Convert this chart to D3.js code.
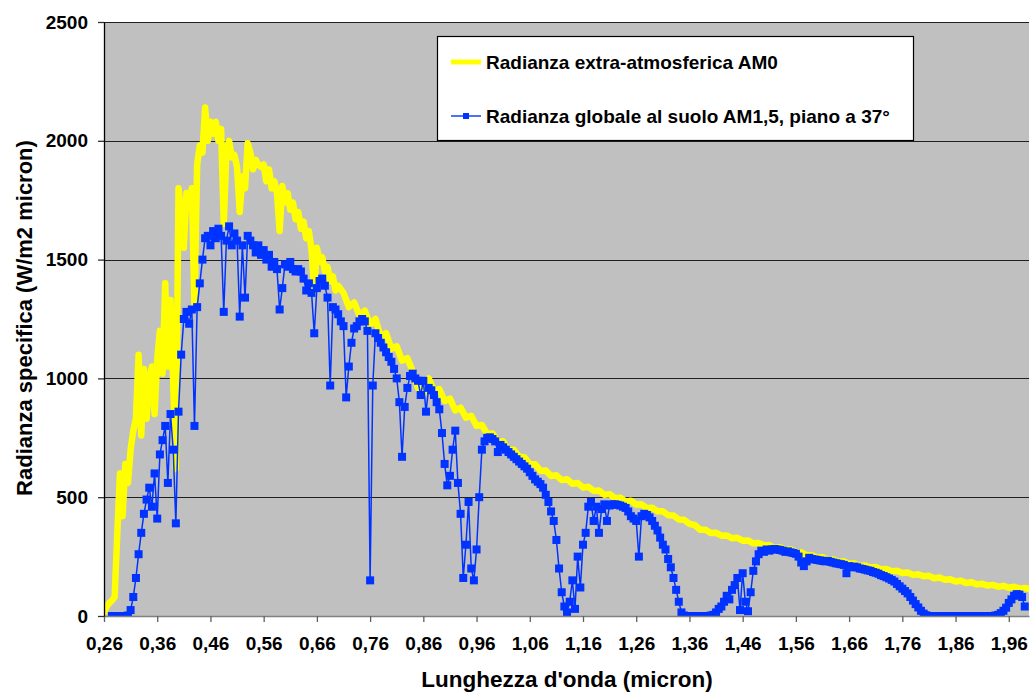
<!DOCTYPE html>
<html>
<head>
<meta charset="utf-8">
<script src="https://cdn.jsdelivr.net/npm/d3@7"></script>
<style>
  body { margin: 0; background: #fff; }
  svg text { font-family: "Liberation Sans", Arial, sans-serif; font-weight: bold; fill: #000; }
</style>
</head>
<body>
<svg id="chart"></svg>
<script>
// --- data ---
// AM0 extra-atmospheric spectrum: fine grid 0.26-0.70 um (step 0.005), then 0.71-2.00 um (step 0.01)
const am0FineStart = 0.26, am0FineStep = 0.005;
const am0Fine = [
    15, 40, 55, 65, 80, 350, 600, 420, 640, 560,
    700, 780, 830, 1100, 760, 1040, 830, 1000, 1050, 850,
    1080, 1200, 1020, 1400, 1050, 1330, 980, 620, 1800, 1700,
    1550, 1780, 1720, 1800, 1300, 1900, 1980, 1950, 2140, 2000,
    2080, 2030, 2080, 2000, 2050, 1650, 1950, 2000, 1930, 1940,
    1890, 1700, 1850, 1800, 1990, 1950, 1880, 1920, 1900, 1890,
    1900, 1830, 1880, 1800, 1830, 1780, 1620, 1810, 1740, 1780,
    1710, 1740, 1670, 1700, 1630, 1660, 1590, 1620, 1540, 1360,
    1550, 1490, 1510, 1450, 1470, 1410, 1430, 1370, 1390
];
const am0CoarseStart = 0.71, am0CoarseStep = 0.01;
const am0Coarse = [
    1360, 1300, 1320, 1265, 1285, 1225, 1250, 1175, 1190, 1125,
    1135, 1075, 1085, 1030, 960, 935, 1000, 950, 955, 905,
    915, 865, 877, 835, 843, 800, 804, 765, 768, 734,
    735, 699, 700, 670, 668, 639, 639, 611, 612, 589,
    592, 572, 576, 557, 560, 541, 544, 526, 528, 510,
    513, 496, 498, 481, 485, 469, 470, 454, 456, 441,
    441, 424, 423, 406, 405, 388, 383, 363, 363, 349,
    350, 338, 339, 327, 329, 317, 318, 306, 307, 297,
    298, 287, 289, 279, 280, 269, 268, 255, 256, 245,
    247, 237, 238, 228, 230, 220, 221, 211, 213, 204,
    206, 196, 198, 188, 190, 181, 183, 173, 176, 167,
    169, 159, 162, 153, 155, 145, 148, 139, 142, 133,
    136, 128, 131, 123, 127, 119, 123, 115, 118, 113
];

// AM1.5 global, tilt 37 deg: grid 0.275-1.99 um (step 0.005)
const am15Start = 0.275, am15Step = 0.005;
const am15Values = [
    0, 0, 0, 0, 0, 0, 2, 25, 80, 160,
    260, 350, 430, 490, 540, 460, 600, 410, 680, 740,
    800, 560, 850, 700, 390, 860, 1100, 1250, 1280, 1230,
    1290, 800, 1300, 1400, 1500, 1590, 1600, 1560, 1620, 1590,
    1630, 1600, 1280, 1580, 1640, 1560, 1610, 1580, 1260, 1560,
    1340, 1600, 1580, 1560, 1530, 1560, 1520, 1540, 1500, 1520,
    1470, 1490, 1460, 1290, 1380, 1480, 1470, 1490, 1460, 1450,
    1460, 1450, 1420, 1370, 1400, 1360, 1190, 1380, 1410, 1420,
    1390, 1340, 970, 1300, 1290, 1270, 1240, 1220, 920, 1050,
    1150, 1210, 1220, 1240, 1250, 1240, 1200, 150, 970, 1190,
    1170, 1150, 1130, 1110, 1090, 1070, 1040, 1000, 900, 670,
    880, 960, 1010, 1020, 1000, 990, 930, 990, 860, 960,
    950, 930, 900, 870, 770, 640, 550, 590, 700, 780,
    560, 430, 160, 300, 480, 200, 150, 280, 500, 700,
    735, 750, 752, 745, 735, 690, 720, 710, 700, 690,
    680, 670, 660, 650, 640, 630, 620, 605, 590, 575,
    565, 555, 540, 510, 480, 440, 400, 320, 200, 100,
    40, 15, 60, 150, 30, 250, 120, 300, 350, 460,
    480, 400, 460, 350, 450, 470, 400, 465, 470, 470,
    468, 465, 460, 455, 440, 420, 410, 400, 250, 420,
    430, 425, 415, 400, 380, 360, 330, 300, 280, 240,
    205, 160, 110, 60, 15, 2, 0, 0, 0, 0,
    0, 0, 0, 0, 0, 2, 5, 15, 30, 40,
    60, 85, 70, 110, 130, 160, 25, 180, 60, 20,
    100, 190, 230, 260, 275, 270, 280, 275, 280, 282,
    280, 278, 275, 270, 272, 268, 265, 262, 250, 225,
    210, 230, 245, 240, 238, 236, 234, 232, 230, 232,
    228, 225, 222, 220, 218, 215, 180, 210, 205, 208,
    205, 200, 198, 195, 192, 190, 185, 182, 178, 172,
    168, 163, 158, 152, 145, 135, 125, 115, 105, 95,
    80, 65, 50, 36, 22, 10, 3, 0, 0, 0,
    0, 0, 0, 0, 0, 0, 0, 0, 0, 0,
    0, 0, 0, 0, 0, 0, 0, 0, 0, 0,
    0, 0, 2, 5, 12, 22, 35, 55, 70, 85,
    92, 90, 80, 40
];

const xTickValues = [0.26, 0.36, 0.46, 0.56, 0.66, 0.76, 0.86, 0.96, 1.06, 1.16,
                     1.26, 1.36, 1.46, 1.56, 1.66, 1.76, 1.86, 1.96];
const yTickValues = [0, 500, 1000, 1500, 2000, 2500];
const seriesNames = ["Radianza extra-atmosferica AM0", "Radianza globale al suolo AM1,5, piano a 37°"];
const xTitle = "Lunghezza d'onda (micron)";
const yTitle = "Radianza specifica (W/m2 micron)";

// --- build point lists ---
const onGrid = (vals, start, step) => vals.map((v, i) => [+(start + i * step).toFixed(4), v]);
const am0 = onGrid(am0Fine, am0FineStart, am0FineStep).concat(onGrid(am0Coarse, am0CoarseStart, am0CoarseStep));
const am15 = onGrid(am15Values, am15Start, am15Step);

// --- layout ---
const config = {
    containerWidth: 1032,
    containerHeight: 693,
    margin: {top: 22, right: 3, bottom: 77, left: 104},
    yellow: "#ffff00",
    blue: "#0033ff",
    plotBg: "#c0c0c0"
};
const width = config.containerWidth - config.margin.left - config.margin.right;
const height = config.containerHeight - config.margin.top - config.margin.bottom;

const svg = d3.select("#chart")
    .attr("width", config.containerWidth)
    .attr("height", config.containerHeight);

const chartArea = svg.append("g")
    .attr("transform", `translate(${config.margin.left},${config.margin.top})`);

const xScale = d3.scaleLinear().domain([0.26, 1.998]).range([0, width]);
const yScale = d3.scaleLinear().domain([0, 2500]).range([height, 0]);

// plot background
chartArea.append("rect")
    .attr("width", width)
    .attr("height", height)
    .attr("fill", config.plotBg);

// gridlines
chartArea.append("g")
    .selectAll("line")
    .data(yTickValues.filter(d => d > 0))
    .join("line")
    .attr("x1", 0)
    .attr("x2", width)
    .attr("y1", d => Math.round(yScale(d)) + 0.5)
    .attr("y2", d => Math.round(yScale(d)) + 0.5)
    .attr("stroke", "#202020")
    .attr("stroke-width", 1);

// clipping for the series
chartArea.append("defs")
    .append("clipPath")
    .attr("id", "plot-clip")
    .append("rect")
    .attr("width", width)
    .attr("height", height + 4)
    .attr("y", -4);

const chart = chartArea.append("g").attr("clip-path", "url(#plot-clip)");

const line = d3.line()
    .x(d => xScale(d[0]))
    .y(d => yScale(d[1]));

// AM0 (thick yellow)
chart.append("path")
    .datum(am0)
    .attr("fill", "none")
    .attr("stroke", config.yellow)
    .attr("stroke-width", 6.5)
    .attr("stroke-linejoin", "round")
    .attr("stroke-linecap", "round")
    .attr("d", line);

// AM1.5 (blue with square markers)
chart.append("path")
    .datum(am15)
    .attr("fill", "none")
    .attr("stroke", config.blue)
    .attr("stroke-width", 1.5)
    .attr("d", line);

const markerSize = 8;
chart.selectAll(".point")
    .data(am15)
    .join("rect")
    .attr("class", "point")
    .attr("x", d => xScale(d[0]) - markerSize / 2)
    .attr("y", d => yScale(d[1]) - markerSize / 2)
    .attr("width", markerSize)
    .attr("height", markerSize)
    .attr("fill", config.blue);

// axes
const xAxis = d3.axisBottom(xScale)
    .tickValues(xTickValues)
    .tickSize(6)
    .tickSizeOuter(0)
    .tickPadding(15)
    .tickFormat(d => d3.format(".2f")(d).replace(".", ","));

const yAxis = d3.axisLeft(yScale)
    .tickValues(yTickValues)
    .tickSize(6)
    .tickSizeOuter(0)
    .tickPadding(10)
    .tickFormat(d3.format("d"));

const xAxisG = chartArea.append("g")
    .attr("transform", `translate(0,${height})`)
    .call(xAxis);
xAxisG.attr("font-size", 19).attr("font-family", null);
xAxisG.select(".domain").attr("stroke", "#808080").attr("stroke-width", 1.3);
xAxisG.selectAll(".tick line").attr("stroke", "#606060").attr("stroke-width", 1.3);

const yAxisG = chartArea.append("g").call(yAxis);
yAxisG.attr("font-size", 19).attr("font-family", null);
yAxisG.select(".domain").attr("stroke", "#000").attr("stroke-width", 1.3);
yAxisG.selectAll(".tick line").attr("stroke", "#303030").attr("stroke-width", 1.3);

// axis titles
svg.append("text")
    .attr("x", 567)
    .attr("y", 687)
    .attr("text-anchor", "middle")
    .attr("font-size", 22.5)
    .text(xTitle);

svg.append("text")
    .attr("transform", "translate(32,318) rotate(-90)")
    .attr("text-anchor", "middle")
    .attr("font-size", 22)
    .text(yTitle);

// legend
const legend = svg.append("g");
legend.append("rect")
    .attr("x", 437.5)
    .attr("y", 36.5)
    .attr("width", 476)
    .attr("height", 104)
    .attr("fill", "#fff")
    .attr("stroke", "#000")
    .attr("stroke-width", 1.2);

const legendRows = [
    {name: seriesNames[0], y: 62, color: config.yellow, width: 5, marker: false},
    {name: seriesNames[1], y: 116, color: config.blue, width: 1.4, marker: true}
];

legendRows.forEach(r => {
    legend.append("line")
        .attr("x1", 451).attr("x2", 481)
        .attr("y1", r.y).attr("y2", r.y)
        .attr("stroke", r.color)
        .attr("stroke-width", r.width);
    if (r.marker) {
        legend.append("rect")
            .attr("x", 466 - 3).attr("y", r.y - 3)
            .attr("width", 6).attr("height", 6)
            .attr("fill", r.color);
    }
    legend.append("text")
        .attr("x", 486)
        .attr("y", r.y + 7)
        .attr("font-size", 19)
        .text(r.name);
});
</script>
</body>
</html>
